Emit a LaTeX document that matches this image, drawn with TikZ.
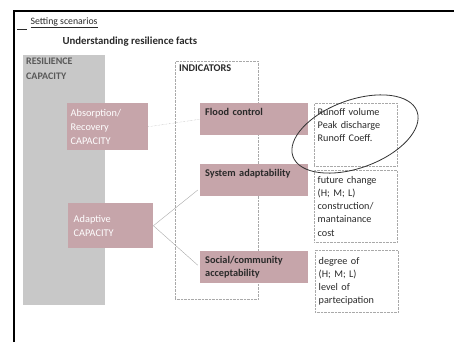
\documentclass[tikz,border=0pt]{standalone}
\usepackage{fontspec}
\setmainfont{Carlito}
\usepackage{xcolor}
\usepackage{tikz}
\usetikzlibrary{positioning, shapes.geometric}
\definecolor{RoseBox}{HTML}{C6A5AA}
\definecolor{GrayPanel}{HTML}{C8C8C8}
\definecolor{InkDark}{HTML}{2A2A2A}
\definecolor{LinkGray}{HTML}{A9A9A9}

\begin{document}
\begin{tikzpicture}[x=1pt, y=-1pt,
  panel/.style={rectangle, fill=GrayPanel, anchor=north west, minimum width=82pt, minimum height=250pt},
  capbox/.style={rectangle, fill=RoseBox, anchor=north west, inner sep=3pt, text width=74pt, align=left, font=\fontsize{10.3}{14}\selectfont\color{white}},
  indbox/.style={rectangle, fill=RoseBox, anchor=north west, inner sep=5pt, text width=98pt, minimum height=32pt, align=left, font=\fontsize{10.3}{13}\selectfont\bfseries\color{InkDark}},
  metricbox/.style={rectangle, draw=LinkGray, densely dotted, anchor=north west, inner sep=3.5pt, text width=76pt, align=left, font=\fontsize{10.2}{13.2}\selectfont\color{InkDark}},
  link/.style={LinkGray, thin}
]
  \useasboundingbox (0,0) rectangle (454,342);
  % frame
  \draw[line width=1.6pt] (14,342) -- (14,11) -- (454,11);

  % titles
  \draw[InkDark, line width=0.8pt] (17,29) -- (27,29);
  \node[anchor=west, font=\fontsize{9.8}{11}\selectfont\color{InkDark}] (setting) at (27,23) {\underline{Setting scenarios}};
  \node[anchor=west, font=\fontsize{10.8}{12}\selectfont\bfseries\color{InkDark}] (title) at (59,42) {Understanding resilience facts};

  % resilience capacity
  \node[panel] (resil) at (23,55) {};
  \node[anchor=north west, align=left, inner sep=0pt, font=\fontsize{10}{15}\selectfont\bfseries\color{black!65}] (resiltxt) at (26,58) {RESILIENCE\\CAPACITY};
  \node[capbox, minimum width=81pt, minimum height=47pt] (absorb) at (67,103) {Absorption/\\Recovery\\CAPACITY};
  \node[capbox, minimum width=85pt, minimum height=45pt] (adapt) at (68,203) {Adaptive\\CAPACITY};

  % indicators
  \node[rectangle, draw=LinkGray, densely dotted, anchor=north west, minimum width=83pt, minimum height=238pt] (indic) at (175,61) {};
  \node[anchor=north west, inner sep=0pt, font=\fontsize{10.3}{12}\selectfont\bfseries\color{InkDark}] (indictxt) at (179,65) {INDICATORS};
  \node[indbox, text depth=14pt] (flood) at (200,103) {Flood control};
  \node[indbox, text depth=14pt] (sysad) at (200,164) {System adaptability};
  \node[indbox] (social) at (200,251) {Social/community\\acceptability};

  % measures
  \node[metricbox, text height=8pt, text depth=47pt, minimum height=63pt] (runoff) at (314,103) {Runoff volume\\Peak discharge\\Runoff Coeff.};
  \node[metricbox, minimum height=72pt] (future) at (314,170) {future change\\(H; M; L)\\construction/\\mantainance\\cost};
  \node[metricbox, minimum height=62pt] (degree) at (315,250) {degree of\\(H; M; L)\\level of\\partecipation};

  \node[ellipse, draw=black!80, thick, rotate=20, minimum width=132pt, minimum height=68pt] (highlight) at (355,134) {};

  % links
  \draw[link, densely dotted] (absorb.east) -- (flood.west);
  \draw[link, shorten >=3pt] (adapt.east) -- ([yshift=-8pt]sysad.west);
  \draw[link, shorten >=3pt] (adapt.east) -- (social.west);
\end{tikzpicture}
\end{document}
